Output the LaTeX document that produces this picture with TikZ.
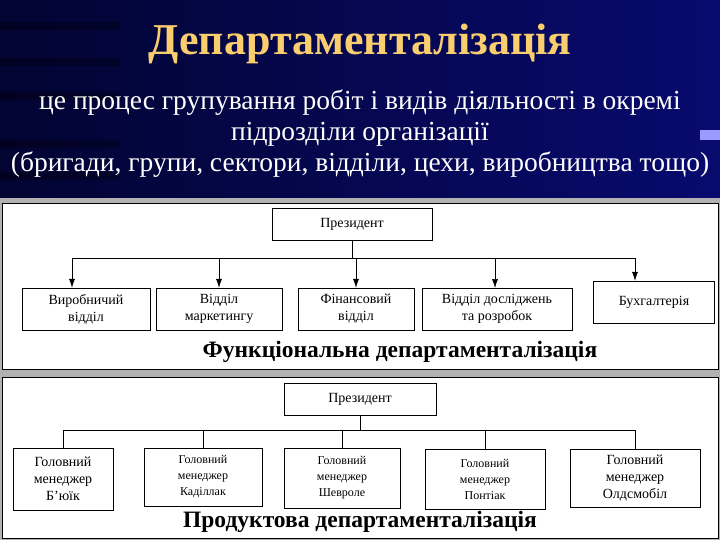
\documentclass[tikz,border=0pt]{standalone}
\usepackage{fontspec}
\setmainfont{Liberation Serif}
\usetikzlibrary{arrows.meta}
\definecolor{navy}{RGB}{8,10,110}
\definecolor{deep}{RGB}{2,4,50}
\definecolor{gold}{RGB}{250,205,110}
\tikzset{
  box/.style={draw=black,fill=white,align=center,inner sep=2pt,font=\fontsize{14}{17}\selectfont},
  panel/.style={draw=black,fill=white,line width=0.8pt},
  link/.style={draw=black,line width=0.6pt},
  arr/.style={link,-{Latex[length=9pt,width=6pt]}},
  captext/.style={font=\bfseries\fontsize{23.5}{26}\selectfont}
}
\begin{document}
\begin{tikzpicture}[x=1pt,y=-1pt]
\useasboundingbox (0,0) rectangle (720,540);
\shade[left color=deep,right color=navy] (0,0) rectangle (720,540);
\foreach \yy in {22,58,92,140,172} \fill[black,opacity=0.3] (0,\yy) rectangle (120,\yy+8);
\fill[gray!60] (0,198) rectangle (720,540);
\fill[blue!40!white] (700,130) rectangle (720,140);
\node[text=gold,font=\bfseries\fontsize{44}{48}\selectfont] (title) at (360,44) {Департаменталізація};
\node[text=white,align=center,font=\fontsize{27.5}{31}\selectfont] (sub) at (360,134)
  {це процес групування робіт і видів діяльності в окремі\\підрозділи організації\\(бригади, групи, сектори, відділи, цехи, виробництва тощо)};
% panel 1
\path[panel] (2,203) rectangle (718,369);
\node[box,minimum width=160,minimum height=32] (p1) at (352,224) {Президент};
\coordinate (h1) at (352,258);
\node[box,minimum width=128,minimum height=42] (a1) at (86,309) {Виробничий\\відділ};
\node[box,minimum width=126,minimum height=42] (a2) at (219,309) {Відділ\\маркетингу};
\node[box,minimum width=116,minimum height=42] (a3) at (356,309) {Фінансовий\\відділ};
\node[box,minimum width=150,minimum height=42] (a4) at (497,309) {Відділ досліджень\\та розробок};
\node[box,minimum width=121,minimum height=42] (a5) at (654,302) {Бухгалтерія};
\draw[link] (p1) -- (h1);
\draw[link] (72,258) coordinate (l1) -- (635,258) coordinate (r1);
\draw[arr] (l1) -- (l1 |- a1.north);
\draw[arr] (a2.north |- h1) -- (a2.north);
\draw[arr] (a3.north |- h1) -- (a3.north);
\draw[arr] (495,258) -- (495,288);
\draw[arr] (r1) -- (r1 |- a5.north);
\node[captext] (c1) at (400,352) {Функціональна департаменталізація};
% panel 2
\path[panel] (2,377) rectangle (718,538);
\node[box,minimum width=152,minimum height=32] (p2) at (360,399) {Президент};
\node[box,minimum width=100,minimum height=62] (b1) at (63,479) {Головний\\менеджер\\Бʼюїк};
\node[box,minimum width=118,minimum height=58,font=\fontsize{12}{16}\selectfont] (b2) at (203,477) {Головний\\менеджер\\Каділлак};
\node[box,minimum width=116,minimum height=60,font=\fontsize{12}{16}\selectfont] (b3) at (342,478) {Головний\\менеджер\\Шевроле};
\node[box,minimum width=120,minimum height=60,font=\fontsize{12}{16}\selectfont] (b4) at (485,479) {Головний\\менеджер\\Понтіак};
\node[box,minimum width=130,minimum height=58] (b5) at (635,478) {Головний\\менеджер\\Олдсмобіл};
\coordinate (h2) at (360,430);
\draw[link] (p2) -- (h2);
\draw[link] (b1.north |- h2) -- (b5.north |- h2);
\foreach \b in {b1,b2,b3,b4,b5} \draw[link] (\b.north |- h2) -- (\b.north);
\node[captext] (c2) at (360,522) {Продуктова департаменталізація};
\end{tikzpicture}
\end{document}
